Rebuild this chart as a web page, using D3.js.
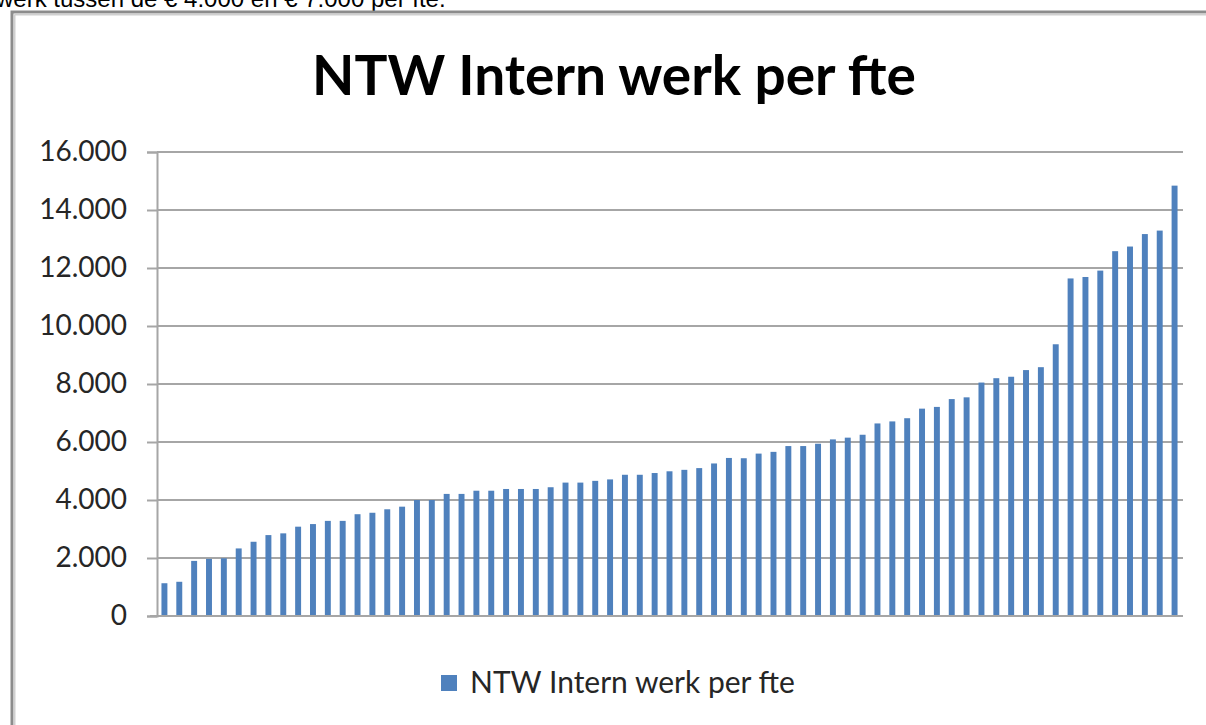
<!DOCTYPE html>
<html>
<head>
<meta charset="utf-8">
<script src="https://d3js.org/d3.v7.min.js"></script>
<style>
  body { margin: 0; background: #fff; overflow: hidden; }
  svg { display: block; }
</style>
</head>
<body>
<svg width="1206" height="725"></svg>
<script>
    // waarden per organisatie, oplopend gesorteerd
    const values = [
        1130, 1180, 1900, 1970, 1990, 2330, 2560, 2790, 2850, 3080,
        3170, 3280, 3280, 3510, 3560, 3680, 3770, 4000, 4000, 4210,
        4210, 4320, 4320, 4380, 4380, 4380, 4440, 4600, 4600, 4660,
        4710, 4870, 4870, 4930, 4990, 5040, 5100, 5260, 5450, 5440,
        5600, 5660, 5860, 5860, 5940, 6090, 6150, 6250, 6640, 6710,
        6820, 7150, 7210, 7480, 7540, 8050, 8200, 8250, 8480, 8580,
        9370, 11640, 11690, 11910, 12580, 12740, 13170, 13290, 14840
    ];
    const categories = values.map((d, i) => i + 1);
    const yTicks = [0, 2000, 4000, 6000, 8000, 10000, 12000, 14000, 16000];
    const title = "NTW Intern werk per fte";
    const seriesName = "NTW Intern werk per fte";
    const topLine = "werk tussen de € 4.000 en € 7.000 per fte.";

    const nl = d3.formatLocale({decimal: ",", thousands: ".", grouping: [3], currency: ["€", ""]});
    const fmt = nl.format(",d");

    const svg = d3.select("svg");

    // afgesneden tekstregel boven de grafiek
    svg.append("text")
        .attr("x", -4).attr("y", 7)
        .attr("font-family", "Liberation Sans, Arial, sans-serif")
        .attr("font-size", 24)
        .attr("fill", "#000")
        .text(topLine);

    // kader van de grafiek
    svg.append("rect")
        .attr("x", 12).attr("y", 12)
        .attr("width", 1300).attr("height", 800)
        .attr("fill", "#fff")
        .attr("stroke", "#8c8c8c")
        .attr("stroke-width", 3);
    svg.append("line").attr("x1", 14.5).attr("x2", 1300).attr("y1", 14.5).attr("y2", 14.5)
        .attr("stroke", "#d0d0d0").attr("stroke-width", 2);
    svg.append("line").attr("x1", 14.5).attr("x2", 14.5).attr("y1", 14.5).attr("y2", 800)
        .attr("stroke", "#d0d0d0").attr("stroke-width", 2);

    const x = d3.scaleBand().domain(categories).range([157, 1182]).paddingInner(0.6).paddingOuter(0.3);
    const y = d3.scaleLinear().domain([0, 16000]).range([616, 152]);

    // rasterlijnen
    svg.append("g")
        .selectAll("line")
        .data(yTicks.filter(d => d > 0))
        .enter()
        .append("line")
        .attr("x1", 157).attr("x2", 1183)
        .attr("y1", d => y(d)).attr("y2", d => y(d))
        .attr("stroke", "#a6a6a6")
        .attr("stroke-width", 2);

    // y-as
    const yAxis = svg.append("g")
        .attr("transform", "translate(157,0)")
        .call(d3.axisLeft(y).tickValues(yTicks).tickFormat(fmt).tickSize(10).tickPadding(20));
    yAxis.select(".domain").attr("stroke", "#a6a6a6").attr("stroke-width", 2);
    yAxis.selectAll(".tick line").attr("stroke", "#a6a6a6").attr("stroke-width", 2);
    yAxis.selectAll(".tick text")
        .attr("font-family", "Lato, sans-serif")
        .attr("font-size", 28)
        .attr("fill", "#262626");

    // staven
    svg.append("g")
        .selectAll("rect")
        .data(values)
        .enter()
        .append("rect")
        .attr("x", (d, i) => x(categories[i]))
        .attr("width", x.bandwidth())
        .attr("y", d => y(d))
        .attr("height", d => y(0) - y(d))
        .attr("fill", "#4f81bd");

    // x-as basislijn
    svg.append("line")
        .attr("x1", 150).attr("x2", 1183)
        .attr("y1", y(0)).attr("y2", y(0))
        .attr("stroke", "#a6a6a6").attr("stroke-width", 2);

    // titel
    svg.append("text")
        .attr("x", 614).attr("y", 95)
        .attr("text-anchor", "middle")
        .attr("font-family", "Lato, sans-serif")
        .attr("font-weight", "bold")
        .attr("font-size", 55)
        .attr("fill", "#000")
        .text(title);

    // legenda
    svg.append("rect")
        .attr("x", 441).attr("y", 675)
        .attr("width", 16).attr("height", 16)
        .attr("fill", "#4f81bd");
    svg.append("text")
        .attr("x", 470).attr("y", 693)
        .attr("font-family", "Lato, sans-serif")
        .attr("font-size", 30)
        .attr("fill", "#262626")
        .text(seriesName);
</script>
</body>
</html>
